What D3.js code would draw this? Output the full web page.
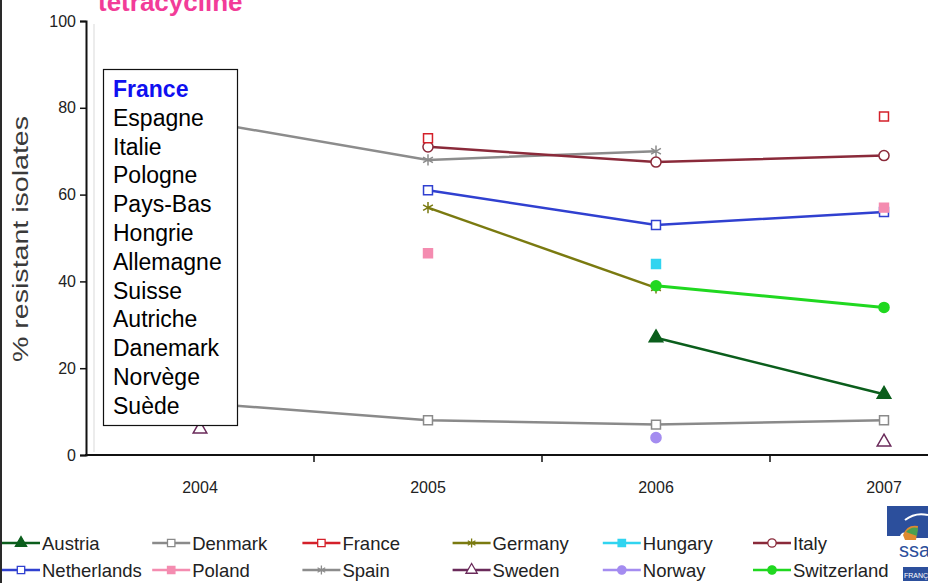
<!DOCTYPE html>
<html>
<head>
<meta charset="utf-8">
<script src="https://cdn.jsdelivr.net/npm/d3@7"></script>
<style>
  body { margin: 0; background: #fff; }
  text { font-family: Arial, "Liberation Sans", sans-serif; }
</style>
</head>
<body>
<div id="chart"></div>
<script>
/**
 * DATA
 * */
const years = ["2004", "2005", "2006", "2007"];
const yTicks = [0, 20, 40, 60, 80, 100];

const austria = [null, null, 27, 14];
const denmark = [12, 8, 7, 8];
const france = [null, 73, null, 78];
const germany = [null, 57, 38.5, null];
const hungary = [null, null, 44, null];
const italy = [null, 71, 67.5, 69];
const netherlands = [null, 61, 53, 56];
const poland = [null, 46.5, null, 57];
const spain = [77, 68, 70, null];
const sweden = [6, null, null, 3];
const norway = [null, null, 4, null];
const switzerland = [null, null, 39, 34];

const boxLabels = ["France", "Espagne", "Italie", "Pologne", "Pays-Bas", "Hongrie",
  "Allemagne", "Suisse", "Autriche", "Danemark", "Norvège", "Suède"];

/**
 * CONSTANTS
 * */
const width = 928, height = 583;

// series table built from the arrays above (legend order)
const series = [
  { name: "Austria", values: austria, color: "#0b5e1c", sym: "triangle", fill: true },
  { name: "Denmark", values: denmark, color: "#8a8a8a", sym: "square", fill: false },
  { name: "France", values: france, color: "#d4202a", sym: "square", fill: false },
  { name: "Germany", values: germany, color: "#7a7a10", sym: "star", fill: false },
  { name: "Hungary", values: hungary, color: "#30d4f0", sym: "square", fill: true },
  { name: "Italy", values: italy, color: "#8a2a3a", sym: "circle", fill: false },
  { name: "Netherlands", values: netherlands, color: "#3040d0", sym: "square", fill: false },
  { name: "Poland", values: poland, color: "#f48cb0", sym: "square", fill: true },
  { name: "Spain", values: spain, color: "#8c8c8c", sym: "star", fill: false },
  { name: "Sweden", values: sweden, color: "#6a2a5a", sym: "triangle", fill: false },
  { name: "Norway", values: norway, color: "#a48cf0", sym: "circle", fill: true },
  { name: "Switzerland", values: switzerland, color: "#20d820", sym: "circle", fill: true }
];

// draw order so the main lines sit on top
const drawOrder = ["Denmark", "Sweden", "Norway", "Spain", "Germany", "Switzerland", "Austria",
  "Hungary", "Netherlands", "Italy", "Poland", "France"];

const svg = d3.select("#chart").append("svg")
  .attr("width", width)
  .attr("height", height);

const x = d3.scaleBand().domain(years).range([86, 998]).paddingInner(0).paddingOuter(0);
const y = d3.scaleLinear().domain([0, 100]).range([455, 21]);
const cx = d => x(d) + x.bandwidth() / 2;

function symbolPath(sym, size) {
  const t = { triangle: d3.symbolTriangle, square: d3.symbolSquare, circle: d3.symbolCircle,
    star: d3.symbolAsterisk || d3.symbolCross }[sym];
  return d3.symbol().type(t).size(size)();
}

// left frame edge
svg.append("rect").attr("x", 0).attr("y", 0).attr("width", 2).attr("height", height).attr("fill", "#2a2a2a");

// title (cut off at top)
svg.append("text")
  .attr("x", 98).attr("y", 11)
  .attr("font-size", 26).attr("font-weight", "bold")
  .attr("fill", "#f23c98")
  .text("tetracycline");

// faint shadow line next to y axis
svg.append("line").attr("x1", 94).attr("x2", 94).attr("y1", 24).attr("y2", 452)
  .attr("stroke", "#ececec").attr("stroke-width", 2);

// y axis
const yAxis = svg.append("g").attr("transform", "translate(86,0)")
  .call(d3.axisLeft(y).tickValues(yTicks).tickSize(6).tickPadding(4));
yAxis.select(".domain").attr("stroke", "#111").attr("stroke-width", 2);
yAxis.selectAll(".tick line").attr("stroke", "#111").attr("stroke-width", 1.5);
yAxis.selectAll(".tick text").attr("font-size", 16).attr("fill", "#222")
  .attr("font-family", "Arial, 'Liberation Sans', sans-serif");

// x axis: line, ticks between categories, labels at centres
const xAxis = svg.append("g");
xAxis.append("line").attr("x1", 85).attr("x2", width).attr("y1", 455).attr("y2", 455)
  .attr("stroke", "#111").attr("stroke-width", 2);
xAxis.selectAll("line.sep").data(years.slice(1)).join("line")
  .attr("class", "sep")
  .attr("x1", d => x(d)).attr("x2", d => x(d))
  .attr("y1", 455).attr("y2", 462)
  .attr("stroke", "#111").attr("stroke-width", 1.5);
xAxis.selectAll("text").data(years).join("text")
  .attr("x", d => cx(d)).attr("y", 493)
  .attr("text-anchor", "middle")
  .attr("font-size", 16).attr("fill", "#222")
  .text(d => d);

// y axis title
svg.append("text")
  .attr("transform", "translate(28,239) rotate(-90)")
  .attr("text-anchor", "middle")
  .attr("font-size", 22).attr("fill", "#3a3a3a")
  .attr("textLength", 246).attr("lengthAdjust", "spacingAndGlyphs")
  .text("% resistant isolates");

// lines + markers
const line = d3.line()
  .defined(d => d.v !== null)
  .x(d => cx(d.year))
  .y(d => y(d.v));

const plot = svg.append("g");
drawOrder.forEach(n => {
  const s = series.find(e => e.name === n);
  const pts = years.map((yr, i) => ({ year: yr, v: s.values[i] }));
  plot.append("path")
    .datum(pts)
    .attr("fill", "none")
    .attr("stroke", s.color)
    .attr("stroke-width", n === "Switzerland" ? 3 : 2.5)
    .attr("d", line);
  plot.selectAll(null).data(pts.filter(d => d.v !== null)).join("path")
    .attr("transform", d => `translate(${cx(d.year)},${y(d.v)})`)
    .attr("d", symbolPath(s.sym, s.sym === "star" ? 90 : 80))
    .attr("fill", s.fill ? s.color : (s.sym === "star" ? "none" : "#fff"))
    .attr("stroke", s.color)
    .attr("stroke-width", 1.5);
});

// French label box
const box = svg.append("g");
box.append("rect")
  .attr("x", 103.5).attr("y", 69.5).attr("width", 134).attr("height", 356)
  .attr("fill", "#fff").attr("stroke", "#111").attr("stroke-width", 1.2);
box.selectAll("text").data(boxLabels).join("text")
  .attr("x", 113)
  .attr("y", (d, i) => 97 + i * 28.8)
  .attr("font-size", 23)
  .attr("font-weight", (d, i) => i === 0 ? "bold" : "normal")
  .attr("fill", (d, i) => i === 0 ? "#1010f0" : "#000")
  .text(d => d);

// bottom legend
const legend = svg.append("g");
series.forEach((s, i) => {
  const col = i % 6, row = Math.floor(i / 6);
  const x0 = 2 + col * 150.2, yc = 543 + row * 27;
  const g = legend.append("g");
  g.append("line").attr("x1", x0).attr("x2", x0 + 38).attr("y1", yc).attr("y2", yc)
    .attr("stroke", s.color).attr("stroke-width", 2.5);
  g.append("path")
    .attr("transform", `translate(${x0 + 19},${yc})`)
    .attr("d", symbolPath(s.sym, 55))
    .attr("fill", s.fill ? s.color : (s.sym === "star" ? "none" : "#fff"))
    .attr("stroke", s.color).attr("stroke-width", 1.3);
  g.append("text").attr("x", x0 + 40).attr("y", yc + 6.5)
    .attr("font-size", 18.5).attr("fill", "#222")
    .text(s.name);
});

// partial logo at bottom right
const logo = svg.append("g");
logo.append("path")
  .attr("d", "M887,506 L928,506 L928,538 L913,538 Q903,528 900,536 L887,536 Z")
  .attr("fill", "#2c4f9c");
logo.append("path")
  .attr("d", "M903,535 Q907,524 918,526 L916,540 L905,540 Z")
  .attr("fill", "#e08a30");
logo.append("path")
  .attr("d", "M906,532 Q911,526 918,528 L917,536 Z")
  .attr("fill", "#4aa050");
logo.append("path")
  .attr("d", "M905,520 Q915,512 928,515")
  .attr("fill", "none").attr("stroke", "#fff").attr("stroke-width", 2);
logo.append("text").attr("x", 899).attr("y", 557)
  .attr("font-size", 20).attr("fill", "#2c4f9c").text("ssa");
logo.append("rect").attr("x", 903).attr("y", 567).attr("width", 25).attr("height", 14)
  .attr("fill", "#2c4f9c");
logo.append("text").attr("x", 904).attr("y", 578)
  .attr("font-size", 7).attr("fill", "#fff").text("FRANÇAISE");
</script>
</body>
</html>
